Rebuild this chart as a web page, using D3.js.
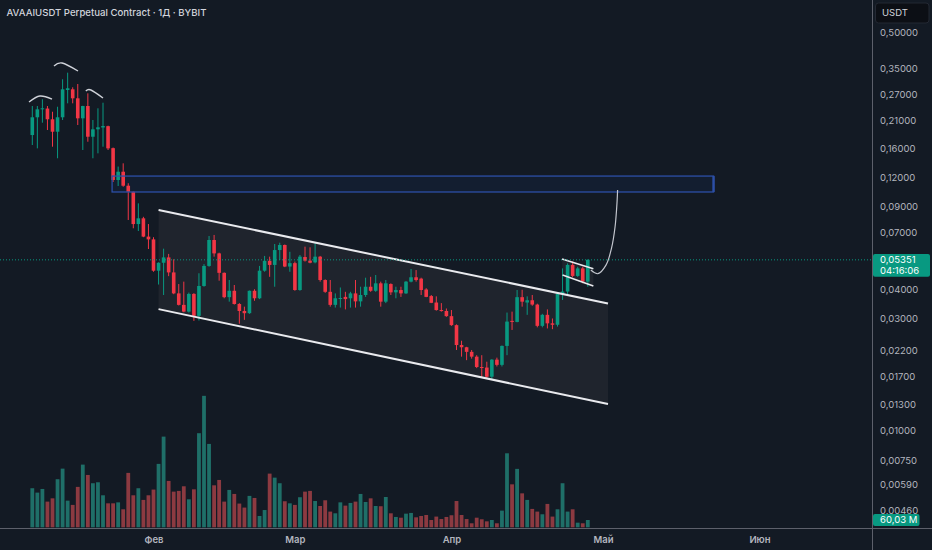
<!DOCTYPE html>
<html>
<head>
<meta charset="utf-8">
<script src="https://cdn.jsdelivr.net/npm/d3@7"></script>
<style>
html, body { margin: 0; padding: 0; background: #131a24; overflow: hidden; }
svg { display: block; font-family: Inter, "Noto Sans", sans-serif; }
</style>
</head>
<body>
<svg id="SVG_CONTAINER" width="932" height="550"></svg>
<script>
let d3 = window.d3;

const width = 932,
      height = 550;

const PANE = { RIGHT: 872, BOTTOM: 528 };

const title = "AVAAIUSDT Perpetual Contract · 1Д · BYBIT";
const firstDay = "2025-01-08";
const lastLabel = "0,05351";
const countdown = "04:16:06";
const volumeLabel = "60,03 M";

// daily candles, one entry per day starting at firstDay
const opens = [
  .1820,.2166,.2342,.2360,.2124,.1880,.2166,.2831,.2850,.2609,.2144,.2419,.1790,.1925,.1960,.1985,.1600,.1171,.1270,.1107,
  .1043,.0760,.0804,.0672,.0654,.0481,.0520,.0548,.0473,.0385,.0344,.0322,.0383,.0309,.0414,.0504,.0650,.0570,.0471,.0371,
  .0395,.0347,.0324,.0317,.0395,.0367,.0481,.0530,.0509,.0589,.0619,.0501,.0518,.0398,.0550,.0531,.0522,.0552,.0439,.0391,
  .0344,.0366,.0372,.0367,.0385,.0356,.0379,.0411,.0395,.0425,.0355,.0422,.0389,.0398,.0385,.0432,.0451,.0445,.0400,.0375,
  .0352,.0327,.0324,.0308,.0282,.0232,.0227,.0217,.0207,.0187,.0186,.0170,.0201,.0191,.0230,.0294,.0291,.0371,.0352,.0360,
  .0345,.0280,.0312,.0287,.0283,.0383,.0392,.0509,.0457,.0492,.0432
];
const highs = [
  .2419,.2419,.2584,.2419,.2287,.2402,.3145,.3355,.2907,.3002,.2425,.2740,.2109,.2365,.2499,.1995,.1610,.1336,.1379,.1134,
  .1046,.0931,.0816,.0760,.0668,.0522,.0597,.0567,.0538,.0422,.0432,.0388,.0386,.0469,.0513,.0676,.0683,.0574,.0473,.0439,
  .0418,.0350,.0338,.0396,.0401,.0504,.0556,.0552,.0625,.0633,.0622,.0579,.0526,.0561,.0609,.0605,.0629,.0556,.0442,.0439,
  .0385,.0408,.0391,.0391,.0439,.0411,.0449,.0453,.0461,.0432,.0439,.0425,.0411,.0411,.0435,.0489,.0484,.0449,.0405,.0379,
  .0374,.0350,.0332,.0327,.0284,.0242,.0228,.0221,.0210,.0210,.0197,.0202,.0205,.0231,.0319,.0322,.0398,.0399,.0374,.0379,
  .0348,.0315,.0329,.0301,.0387,.0492,.0517,.0527,.0500,.0500,.0537
];
const lows = [
  .1650,.1597,.2054,.1912,.1623,.1449,.2109,.2484,.2484,.2008,.1571,.1704,.1449,.1521,.1623,.1571,.1148,.1104,.1096,.0791,
  .0729,.0710,.0668,.0595,.0476,.0420,.0379,.0456,.0382,.0342,.0320,.0319,.0294,.0295,.0411,.0500,.0552,.0436,.0367,.0355,
  .0345,.0286,.0297,.0315,.0358,.0364,.0476,.0453,.0411,.0534,.0498,.0476,.0395,.0395,.0526,.0517,.0517,.0432,.0387,.0338,
  .0335,.0335,.0329,.0335,.0335,.0338,.0372,.0391,.0391,.0338,.0350,.0379,.0367,.0372,.0383,.0429,.0432,.0379,.0371,.0350,
  .0325,.0322,.0306,.0280,.0221,.0207,.0200,.0203,.0185,.0169,.0168,.0166,.0188,.0188,.0210,.0269,.0290,.0338,.0312,.0341,
  .0276,.0276,.0273,.0271,.0278,.0361,.0376,.0451,.0453,.0425,.0411
];
const closes = [
  .2166,.2342,.2365,.2124,.1880,.2166,.2850,.2879,.2609,.2144,.2419,.1790,.1925,.1963,.1988,.1597,.1171,.1270,.1107,.1043,
  .0760,.0804,.0672,.0654,.0481,.0520,.0548,.0473,.0385,.0344,.0322,.0383,.0309,.0414,.0504,.0650,.0570,.0471,.0371,.0395,
  .0347,.0324,.0317,.0395,.0367,.0481,.0530,.0509,.0589,.0619,.0501,.0518,.0398,.0552,.0531,.0520,.0552,.0439,.0391,.0344,
  .0367,.0368,.0364,.0385,.0356,.0379,.0411,.0395,.0425,.0355,.0425,.0389,.0398,.0385,.0432,.0451,.0439,.0398,.0372,.0351,
  .0327,.0324,.0308,.0282,.0232,.0227,.0217,.0207,.0187,.0186,.0170,.0201,.0191,.0230,.0292,.0291,.0371,.0355,.0360,.0345,
  .0280,.0312,.0287,.0283,.0383,.0392,.0509,.0457,.0492,.0432,.05351
];
// volume, millions USDT
const volumes = [
  321,285,315,211,238,395,482,219,184,332,515,430,362,370,263,197,197,205,148,447,
  263,321,225,263,310,521,745,381,293,299,337,230,312,773,1080,685,345,389,211,307,
  274,195,162,258,241,93,142,441,408,362,214,197,184,247,293,299,216,175,222,129,
  115,205,178,200,211,274,208,238,175,173,249,115,85,79,112,118,82,93,101,60,
  88,68,85,99,216,101,68,33,79,66,49,60,33,137,608,353,480,279,225,151,
  129,107,192,88,148,362,129,148,38,33,60
];

const priceTicks = [0.5, 0.35, 0.27, 0.21, 0.16, 0.12, 0.09, 0.07, 0.055, 0.04, 0.03, 0.022, 0.017, 0.013, 0.01, 0.0075, 0.0059, 0.0046];
const monthTicks = ["2025-02-01", "2025-03-01", "2025-04-01", "2025-05-01", "2025-06-01"];
const monthLabels = ["Фев", "Мар", "Апр", "Май", "Июн"];

// drawings: [days after firstDay, price]
const channelTop    = [[25, 0.0872], [114, 0.0349]];
const channelBottom = [[25, 0.0330], [114, 0.0130]];
const flagTop       = [[104.9, 0.0540], [111.1, 0.0490]];
const flagBottom    = [[105.0, 0.0461], [111.1, 0.0414]];
const targetZone    = [[15.8, 0.1217], [134.9, 0.1041]];
const projection    = [[110.6, 0.0484], [112.0, 0.0467], [113.6, 0.0508], [114.7, 0.0600], [115.4, 0.0740], [115.8, 0.0950], [115.9, 0.1061]];
const shoulderArcs  = [
  [[-0.65, 0.2516], [1.5, 0.2669], [3.9, 0.2590]],
  [[4.3, 0.3582], [5.9, 0.3689], [9.05, 0.3410]],
  [[10.6, 0.2803], [11.6, 0.2831], [14.0, 0.2617]]
];

const UP = "#089981", DOWN = "#f23645";
const VOL_UP = "#1f6f68", VOL_DOWN = "#8c3a41";

window.onload = function () {
    let svg = d3.select("#SVG_CONTAINER");
    let parse = d3.utcParse("%Y-%m-%d");
    let t0 = parse(firstDay);
    let dates = d3.utcDay.range(t0, d3.utcDay.offset(t0, opens.length));
    let data = dates.map((d, i) => ({
        date: d, o: opens[i], h: highs[i], l: lows[i], c: closes[i], v: volumes[i]
    }));

    let xScale = d3.scaleUtc()
        .domain([t0, parse("2025-06-01")])
        .range([32.3, 759.5]);
    let yScale = d3.scaleLog()
        .domain([0.5, 0.0046])
        .range([32, 510]);
    let vScale = d3.scaleLinear()
        .domain([0, 1100])
        .range([527.3, 393.4]);

    let dayX = d => xScale(new Date(t0.getTime() + d * 864e5));
    let pt = p => [dayX(p[0]), yScale(p[1])];
    let last = data[data.length - 1];
    let ly = yScale(last.c);

    svg.append("rect").attr("width", width).attr("height", height).attr("fill", "#131a24");

    let defs = svg.append("defs");
    defs.append("clipPath").attr("id", "pane")
        .append("rect").attr("width", PANE.RIGHT).attr("height", PANE.BOTTOM);
    // the price label hidden behind the last-price badge only shows a sliver
    defs.append("clipPath").attr("id", "behindBadge")
        .append("rect").attr("x", PANE.RIGHT).attr("y", 0).attr("width", 60).attr("height", ly - 5.8);

    let pane = svg.append("g").attr("clip-path", "url(#pane)");

    // target zone fill
    let z0 = pt(targetZone[0]), z1 = pt(targetZone[1]);
    pane.append("rect")
        .attr("x", z0[0]).attr("y", z0[1])
        .attr("width", z1[0] - z0[0]).attr("height", z1[1] - z0[1])
        .attr("fill", "#2962ff").attr("fill-opacity", 0.06);

    // channel + flag fills
    let poly = (a, b) => [pt(a[0]), pt(a[1]), pt(b[1]), pt(b[0])].map(p => p.join(",")).join(" ");
    pane.append("polygon").attr("points", poly(channelTop, channelBottom)).attr("fill", "#1f242d");
    pane.append("polygon").attr("points", poly(flagTop, flagBottom)).attr("fill", "#1f242d");

    // volume
    pane.selectAll(".vol")
        .data(data)
        .enter()
        .append("rect")
            .attr("class", "vol")
            .attr("x", d => xScale(d.date) - 1.9)
            .attr("width", 3.8)
            .attr("y", d => vScale(d.v))
            .attr("height", d => vScale(0) - vScale(d.v))
            .attr("fill", d => d.c >= d.o ? VOL_UP : VOL_DOWN);

    // candles
    let candle = pane.selectAll(".candle")
        .data(data)
        .enter()
        .append("g")
            .attr("class", "candle");
    candle.append("line")
        .attr("x1", d => xScale(d.date)).attr("x2", d => xScale(d.date))
        .attr("y1", d => yScale(d.h)).attr("y2", d => yScale(d.l))
        .attr("stroke", d => d.c >= d.o ? UP : DOWN)
        .attr("stroke-width", 1);
    candle.append("rect")
        .attr("x", d => xScale(d.date) - 1.8)
        .attr("width", 3.6)
        .attr("y", d => yScale(Math.max(d.o, d.c)))
        .attr("height", d => Math.max(1, Math.abs(yScale(d.o) - yScale(d.c))))
        .attr("fill", d => d.c >= d.o ? UP : DOWN);

    // channel and flag lines
    [channelTop, channelBottom].forEach(seg => {
        pane.append("path").attr("d", d3.line()(seg.map(pt)))
            .attr("stroke", "#e9eaee").attr("stroke-width", 2).attr("fill", "none");
    });
    [flagTop, flagBottom].forEach(seg => {
        pane.append("path").attr("d", d3.line()(seg.map(pt)))
            .attr("stroke", "#e9eaee").attr("stroke-width", 1.6).attr("fill", "none");
    });

    // target zone border
    pane.append("rect")
        .attr("x", z0[0]).attr("y", z0[1])
        .attr("width", z1[0] - z0[0]).attr("height", z1[1] - z0[1])
        .attr("fill", "none").attr("stroke", "#2c4fa6").attr("stroke-width", 1.3);
    pane.append("line")
        .attr("x1", z1[0]).attr("x2", z1[0]).attr("y1", z0[1]).attr("y2", z1[1])
        .attr("stroke", "#2c4fa6").attr("stroke-width", 2.4);

    // head & shoulders arcs
    shoulderArcs.forEach(arc => {
        pane.append("path").attr("d", d3.line().curve(d3.curveNatural)(arc.map(pt)))
            .attr("stroke", "#cfd2d9").attr("stroke-width", 1.4).attr("fill", "none");
    });

    // projected move
    pane.append("path").attr("d", d3.line().curve(d3.curveCatmullRom)(projection.map(pt)))
        .attr("stroke", "#c3c6ce").attr("stroke-width", 1.2).attr("fill", "none");

    // last price line
    pane.append("line")
        .attr("x1", 0).attr("x2", PANE.RIGHT)
        .attr("y1", ly).attr("y2", ly)
        .attr("stroke", UP).attr("stroke-width", 1).attr("stroke-dasharray", "1,2");

    // title
    svg.append("text")
        .attr("x", 6.5).attr("y", 15.8)
        .text(title)
        .style("font-size", "9.6px")
        .style("font-weight", 500)
        .attr("fill", "#d1d4dc");

    // price axis
    let fmt = v => d3.format(".5f")(v).replace(".", ",");
    let yAxis = svg.append("g")
        .attr("transform", "translate(" + PANE.RIGHT + ",0)")
        .call(d3.axisRight(yScale).tickValues(priceTicks).tickFormat(fmt).tickSize(0).tickPadding(8));
    yAxis.select(".domain").remove();
    yAxis.selectAll("text").attr("fill", "#b2b5be").style("font-size", "9.5px").style("font-family", "Inter, sans-serif");
    yAxis.selectAll(".tick").filter(d => d === 0.055).attr("clip-path", "url(#behindBadge)");

    // time axis
    let xAxis = svg.append("g")
        .attr("transform", "translate(0," + PANE.BOTTOM + ")")
        .call(d3.axisBottom(xScale).tickValues(monthTicks.map(parse)).tickFormat((d, i) => monthLabels[i]).tickSize(0).tickPadding(8));
    xAxis.select(".domain").remove();
    xAxis.selectAll("text").attr("fill", "#b2b5be").style("font-size", "9.5px").style("font-weight", 600).style("font-family", "Inter, sans-serif");

    // pane borders
    svg.append("line").attr("x1", PANE.RIGHT + 0.5).attr("x2", PANE.RIGHT + 0.5).attr("y1", 0).attr("y2", height)
        .attr("stroke", "#5d606b");
    svg.append("line").attr("x1", 0).attr("x2", width).attr("y1", PANE.BOTTOM + 0.5).attr("y2", PANE.BOTTOM + 0.5)
        .attr("stroke", "#5d606b");

    // currency box
    svg.append("rect").attr("x", 875.5).attr("y", 3).attr("width", 53.5).attr("height", 20).attr("rx", 3)
        .attr("fill", "#0c0f15").attr("stroke", "#232833");
    svg.append("text").attr("x", 882).attr("y", 16.3).text("USDT")
        .style("font-size", "9.5px").attr("fill", "#d1d4dc");

    // last price badge
    svg.append("rect").attr("x", 873).attr("y", ly - 5.8).attr("width", 57).attr("height", 22.8).attr("rx", 2)
        .attr("fill", UP);
    svg.append("text").attr("x", 880).attr("y", ly + 3.6).text(lastLabel)
        .style("font-size", "9.5px").attr("fill", "#ffffff");
    svg.append("text").attr("x", 880).attr("y", ly + 14.4).text(countdown)
        .style("font-size", "9.5px").attr("fill", "#ffffff");

    // last volume badge
    let vy = vScale(last.v);
    svg.append("rect").attr("x", 873).attr("y", vy - 6).attr("width", 46.5).attr("height", 12).attr("rx", 2)
        .attr("fill", UP);
    svg.append("text").attr("x", 880).attr("y", vy + 3.4).text(volumeLabel)
        .style("font-size", "9.5px").attr("fill", "#ffffff");
};
</script>
</body>
</html>
